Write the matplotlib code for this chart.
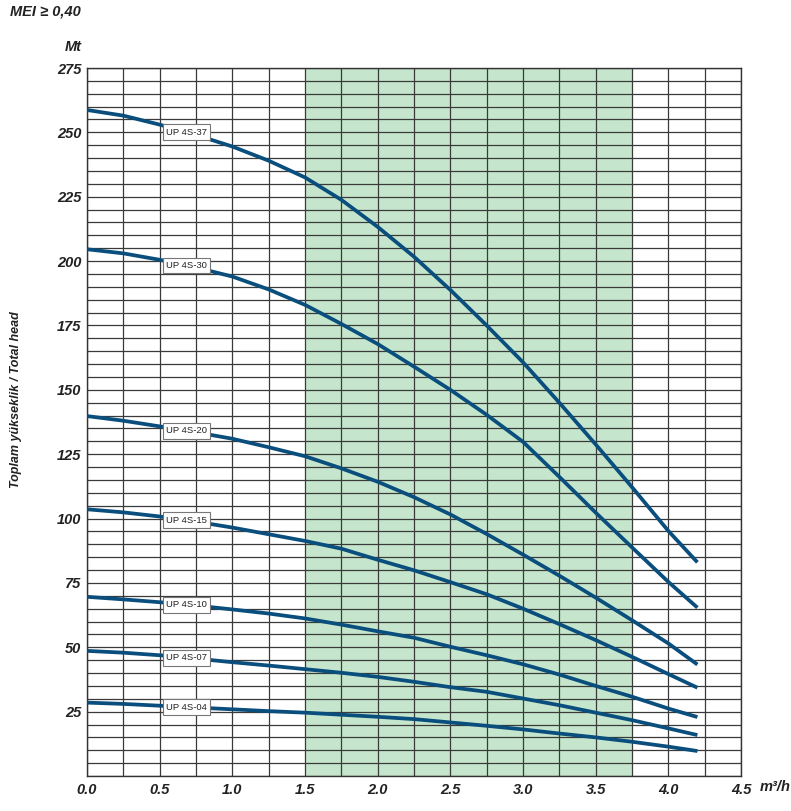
import numpy as np
import matplotlib.pyplot as plt

# --- data ---
flow = [0.0, 0.25, 0.5, 0.75, 1.0, 1.25, 1.5, 1.75, 2.0, 2.25, 2.5,
        2.75, 3.0, 3.25, 3.5, 3.75, 4.0, 4.2]

head_37 = [258.7, 256.5, 253.0, 249.0, 244.5, 239.0, 232.5, 223.8, 213.3,
           201.7, 188.8, 175.0, 160.7, 145.0, 128.8, 112.2, 95.2, 83.0]
head_30 = [204.6, 203.0, 200.5, 197.5, 194.0, 189.0, 183.0, 175.6, 167.8,
           159.0, 150.0, 140.3, 129.8, 116.2, 102.3, 88.8, 75.4, 65.4]
head_20 = [139.8, 138.0, 135.8, 133.5, 131.0, 127.7, 124.2, 119.5, 114.3,
           108.3, 101.6, 94.0, 86.0, 77.8, 69.3, 60.5, 51.5, 43.3]
head_15 = [103.6, 102.4, 100.8, 98.8, 96.5, 93.9, 91.3, 88.3, 84.0,
           79.9, 75.3, 70.6, 65.0, 59.0, 52.8, 46.3, 39.6, 34.3]
head_10 = [69.6, 68.6, 67.5, 66.2, 64.7, 63.1, 61.2, 58.8, 56.2,
           53.7, 50.2, 46.9, 43.4, 39.4, 35.0, 30.8, 26.2, 22.9]
head_07 = [48.6, 47.9, 46.9, 45.6, 44.2, 42.9, 41.5, 40.1, 38.5,
           36.6, 34.5, 32.7, 30.1, 27.5, 24.6, 21.7, 18.5, 15.9]
head_04 = [28.5, 28.0, 27.3, 26.6, 25.9, 25.2, 24.6, 23.8, 23.0,
           22.1, 20.8, 19.5, 18.1, 16.5, 15.0, 13.3, 11.4, 9.7]

models = ['UP 4S-37', 'UP 4S-30', 'UP 4S-20', 'UP 4S-15',
          'UP 4S-10', 'UP 4S-07', 'UP 4S-04']
heads = [head_37, head_30, head_20, head_15, head_10, head_07, head_04]

x_ticks = [0.0, 0.5, 1.0, 1.5, 2.0, 2.5, 3.0, 3.5, 4.0, 4.5]
y_ticks = [25, 50, 75, 100, 125, 150, 175, 200, 225, 250, 275]
band = (1.5, 3.75)  # shaded working range

# --- styles ---
curve_col = '#0a4e7d'
grid_col = '#3a3a3a'
txt_col = '#222222'
narrow = ['Liberation Sans Narrow', 'Liberation Sans']
tick_font = dict(family=narrow, weight='bold', style='italic',
                 size=10.5, color=txt_col)

fig = plt.figure(figsize=(7.91, 8.11), dpi=100)
ax = fig.add_axes([87 / 791, 35 / 811, 654 / 791, 708 / 811])
ax.set_xlim(0, 4.5)
ax.set_ylim(0, 275)

# green band
ax.axvspan(band[0], band[1], color='#c5e6cc', zorder=0, lw=0)

# grid
ax.set_xticks(np.arange(0, 4.51, 0.25), minor=True)
ax.set_yticks(np.arange(0, 276, 5), minor=True)
ax.set_xticks(x_ticks)
ax.set_yticks(y_ticks)
ax.grid(which='both', color=grid_col, lw=0.9, zorder=1)
ax.set_axisbelow(True)
ax.tick_params(which='both', length=0)
ax.tick_params(axis='x', pad=5)
ax.tick_params(axis='y', pad=4)
ax.set_xticklabels([f'{v:.1f}' for v in x_ticks], fontdict=tick_font)
ax.set_yticklabels([str(v) for v in y_ticks], fontdict=tick_font)
for s in ax.spines.values():
    s.set_color('#333333')
    s.set_linewidth(1.0)

# curves and labels
label_x = 0.685
for name, h in zip(models, heads):
    ax.plot(flow, h, color=curve_col, lw=2.7, solid_capstyle='butt',
            solid_joinstyle='round', zorder=3)
    ax.text(label_x, np.interp(label_x, flow, h), name,
            ha='center', va='center', fontsize=6.8, color=txt_col,
            family=narrow,
            bbox=dict(boxstyle='square,pad=0.35', fc='white', ec='#777777',
                      lw=0.8), zorder=4)

# annotations
fig.text(10 / 791, 1 - 12 / 811, 'MEI ≥ 0,40', ha='left', va='center',
         **tick_font)
fig.text(82 / 791, 1 - 47 / 811, 'Mt', ha='right', va='center', **tick_font)
fig.text(760 / 791, 1 - 787 / 811, 'm³/h', ha='left', va='center',
         **tick_font)
fig.text(16 / 791, 1 - 400 / 811, 'Toplam yükseklik / Total head',
         rotation=90, ha='center', va='center', family=narrow,
         weight='bold', style='italic', size=9, color=txt_col)

fig.savefig('out.png', dpi=100)
